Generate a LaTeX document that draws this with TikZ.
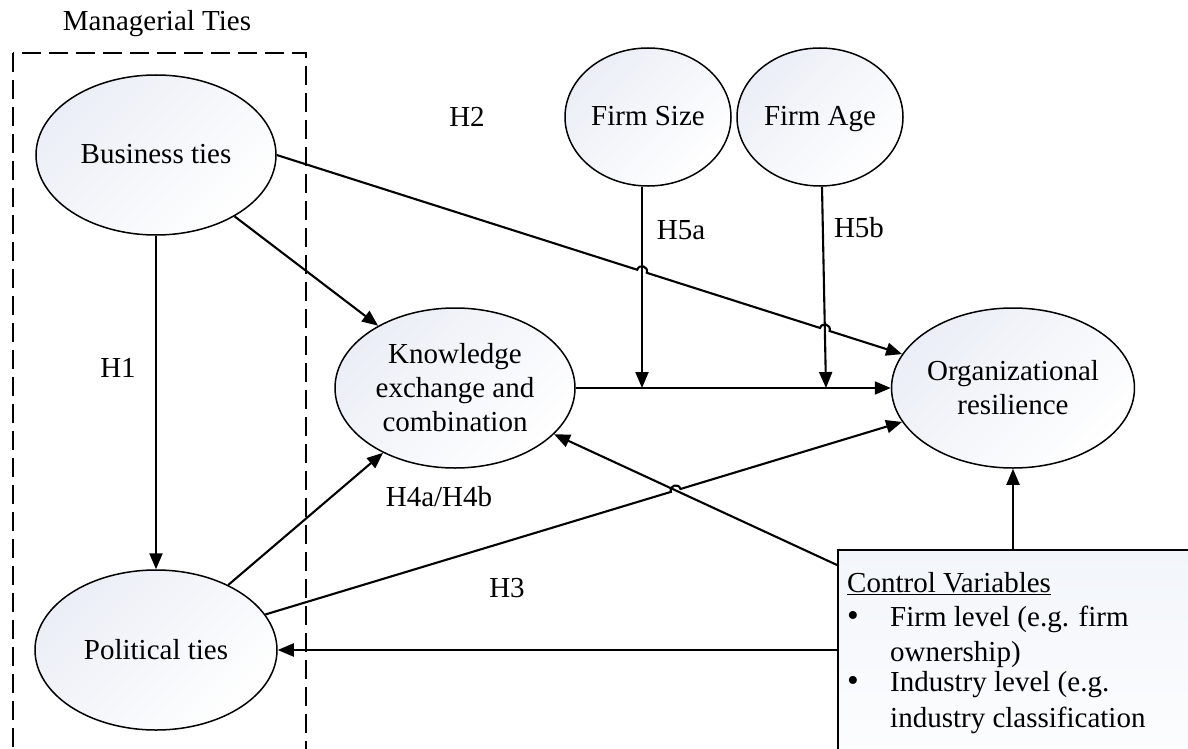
\documentclass[tikz,border=0pt]{standalone}
\usepackage{fontspec}
\setmainfont{Liberation Serif}
\usetikzlibrary{shapes.geometric,arrows.meta,calc}
\definecolor{ellshade}{RGB}{235,238,246}
\definecolor{boxshade}{RGB}{242,245,250}
\begin{document}
\begin{tikzpicture}[x=1pt,y=-1pt,
  font=\fontsize{29}{34}\selectfont,
  latent/.style={ellipse, draw, line width=1.5pt, inner sep=0pt, align=center,
    top color=ellshade, bottom color=white, shading angle=45},
  oneline/.style={text height=20pt, text depth=2pt},
  conn/.style={line width=2.1pt, -{Triangle[length=16pt,width=13pt]}},
  lbl/.style={anchor=base, inner sep=0pt},
  group/.style={line width=2.3pt, dash pattern=on 19pt off 8pt},
]
\useasboundingbox (0,0) rectangle (1188,749);

% managerial ties group
\draw[group] (13,53) rectangle (306,800);
\node[lbl] (mgt) at (157,31) {Managerial Ties};

% constructs
\node[latent, oneline, minimum width=240pt, minimum height=160pt] (bus) at (156,155) {Business ties};
\node[latent, oneline, minimum width=242pt, minimum height=160pt] (pol) at (156,650) {Political ties};
\node[latent, minimum width=240pt, minimum height=160pt] (know) at (455,388) {Knowledge\\exchange and\\combination};
\node[latent, minimum width=242pt, minimum height=160pt] (org) at (1013,388) {Organizational\\resilience};
\node[latent, oneline, minimum width=166pt, minimum height=138pt] (fs) at (648,117) {Firm Size};
\node[latent, oneline, minimum width=166pt, minimum height=138pt] (fa) at (820,117) {Firm Age};

% control variables box
\node[draw, line width=1.6pt, anchor=north west, minimum width=420pt, minimum height=260pt,
  top color=boxshade, bottom color=white, inner sep=0pt] (ctrl) at (837,549) {};
\node[lbl, anchor=base west] (cvh) at (847,592) {\underline{Control Variables}};
\node[lbl] (b1) at (853,626) {\scalebox{1.15}{\textbullet}};
\node[lbl, anchor=base west] (cv1) at (890,626) {Firm level (e.g. firm};
\node[lbl, anchor=base west] (cv2) at (890,661) {ownership)};
\node[lbl] (b2) at (853,691) {\scalebox{1.15}{\textbullet}};
\node[lbl, anchor=base west] (cv3) at (890,691) {Industry level (e.g.};
\node[lbl, anchor=base west] (cv4) at (890,727) {industry classification};

% direct paths
\draw[conn] (bus.south) -- (pol.north);
\draw[conn] (bus.-38) -- (know.141);
\draw[conn] (pol.42) -- (know.222);
\draw[conn] (know.east) -- (org.west);

% moderators
\coordinate (m1) at (642,388);
\coordinate (m2) at (826,388);
\coordinate (fs0) at (fs.south -| m1);
\coordinate (fa0) at ($(fa.south)+(2,0)$);
\draw[conn] (fs0) -- (m1);
\draw[conn] (fa0) -- (m2);

% H2 with hops over the moderator lines
\coordinate (h2s) at (bus.east);
\coordinate (h2e) at (org.163);
\coordinate (x1) at (intersection of h2s--h2e and fs0--m1);
\coordinate (x2) at (intersection of h2s--h2e and fa0--m2);
\coordinate (x1a) at ($(x1)!5pt!(h2s)$);
\coordinate (x1b) at ($(x1)!5pt!(h2e)$);
\coordinate (x2a) at ($(x2)!5pt!(h2s)$);
\coordinate (x2b) at ($(x2)!5pt!(h2e)$);
\draw[conn] (h2s) -- (x1a)
  .. controls ($(x1a)!6.7pt!90:(x1b)$) and ($(x1b)!6.7pt!-90:(x1a)$) .. (x1b) -- (x2a)
  .. controls ($(x2a)!6.7pt!90:(x2b)$) and ($(x2b)!6.7pt!-90:(x2a)$) .. (x2b) -- (h2e);

% control variable links
\coordinate (c1) at ($(ctrl.north west)+(0,16)$);
\coordinate (c1e) at (know.-25);
\draw[conn] (c1) -- (c1e);
\draw[conn] (pol.east -| ctrl.west) -- (pol.east);
\draw[conn] (org.south |- ctrl.north) -- (org.south);

% H3 with a hop over the control link
\coordinate (h3s) at (pol.18);
\coordinate (h3e) at (org.197);
\coordinate (x3) at (intersection of h3s--h3e and c1--c1e);
\coordinate (x3a) at ($(x3)!5pt!(h3s)$);
\coordinate (x3b) at ($(x3)!5pt!(h3e)$);
\draw[conn] (h3s) -- (x3a)
  .. controls ($(x3a)!6.7pt!90:(x3b)$) and ($(x3b)!6.7pt!-90:(x3a)$) .. (x3b) -- (h3e);

% hypothesis labels
\node[lbl] (lh1) at (118,377) {H1};
\node[lbl] (lh2) at (467,127) {H2};
\node[lbl] (lh3) at (507,597) {H3};
\node[lbl] (lh4) at (439,506) {H4a/H4b};
\node[lbl] (lh5a) at (681,239) {H5a};
\node[lbl] (lh5b) at (859,237) {H5b};
\end{tikzpicture}
\end{document}
